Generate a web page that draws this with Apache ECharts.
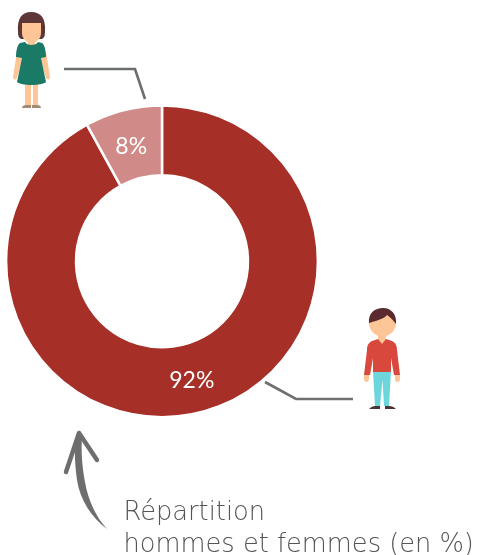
<!DOCTYPE html>
<html><head><meta charset="utf-8">
<style>html,body{margin:0;padding:0;background:#fff}#c{width:479px;height:555px}</style>
<script src="https://cdn.jsdelivr.net/npm/echarts@6/dist/echarts.min.js"></script>
</head><body><div id="c"></div>
<script>
const categories = ['Hommes', 'Femmes'];
const values = [92, 8];
const colors = ['#a62f27', '#d08a88'];
const captionLines = ['Répartition', 'hommes et femmes (en %)'];

const chart = echarts.init(document.getElementById('c'), null, {renderer:'canvas'});
const skin='#fec596';
let shapeCount=0;
function poly(points, stroke, w){return {type:'polyline',shape:{points},style:{stroke,lineWidth:w,fill:null,lineJoin:'miter'},silent:true};}
function p(d,fill){
  const name='figure'+(shapeCount++);
  echarts.graphic.registerShape(name, echarts.graphic.extendPath(d,{}));
  return {type:name,style:{fill},silent:true};
}
const woman=[
  p('M18 32 C17 18 22 12 31 12 C41 12 46 18 45 32 C45 36 44 38 42 39 L21 39 C19 38 18 36 18 32Z','#5d3638'),
  p('M22 23 L41 23 L41 33 C41 39 36 43 31.5 43 C27 43 22 39 22 33Z',skin),
  p('M28 38 L35 38 L35 47 L28 47Z',skin),
  p('M17 52 L13 77 C13 80 16 80 17 78 L23 58Z',skin),
  p('M46 52 L50 77 C50 80 47 80 46 78 L40 58Z',skin),
  p('M25 84 L31 84 L31 106 L25 106Z',skin),
  p('M33 84 L38 84 L38 106 L33 106Z',skin),
  p('M22 108 C22 106 24 105 26 105 L31 105 L31 108Z','#a08a70'),
  p('M41 108 C41 106 39 105 37 105 L32 105 L32 108Z','#a08a70'),
  p('M25 42 C27 46 36 46 38 42 L42 43 C45 45 46 52 46 57 L41 58 L46 82 C42 86 21 86 17 82 L22 58 L16 57 C16 52 17 45 20 43Z','#1a7a65')
];
const man=[
  p('M378 335 L386 335 L386 345 L378 345Z',skin),
  p('M364 375 L369 375 L369 379 C369 383 364 383 364 379Z',skin),
  p('M395 375 L400 375 L400 379 C400 383 395 383 395 379Z',skin),
  p('M373 371 L391 371 L389 406 L384 406 L382.5 380 L380 406 L375 406Z','#6dd6dc'),
  p('M369 409 C371 407 373 406 375 406 L380 406 L380 409Z','#4a3535'),
  p('M396 409 C394 407 392 406 389 406 L385 406 L385 409Z','#4a3535'),
  p('M372 341 L378 339 L382 344 L386 339 L392 341 C396 343 397 346 397 350 L400 375 L394 375 L391 358 L391 372 L373 372 L373 358 L370 375 L364 375 L367 350 C367 346 368 343 372 341Z','#d8483c'),
  {type:'circle',shape:{cx:382.5,cy:323,r:13.5},style:{fill:skin},silent:true},
  p('M369 323 C368 313 375 308 383 308 C391 308 397 314 396 324 C393 320 390 317 387 315 C384 319 375 321 369 323Z','#5a2a2e')
];
chart.setOption({
  animation:false,
  series:[{
    type:'pie',
    center:[162,261.3],
    radius:[86,155.9],
    startAngle:90,
    clockwise:true,
    itemStyle:{borderColor:'#fff',borderWidth:2.5},
    label:{position:'inside',formatter:'{d}%',color:'#fff',fontFamily:'Lato',fontSize:23},
    labelLine:{show:false},
    emphasis:{disabled:true},
    data:categories.map((name,i)=>({name,value:values[i],itemStyle:{color:colors[i]},label:i===1?{offset:[0,5.5]}:{offset:[-1,-1]}}))
  }],
  graphic:{elements:[
    ...woman,...man,
    poly([[64,69],[135,69],[145,99]],'#6b6f6f',2.6),
    poly([[265,382],[296,399],[353,399]],'#6f6f6f',2.6),
    p('M107 529 C92 518 80 500 77 480 C75 465 74 450 76 436 L82 436 C81 450 82 467 85 482 C88 500 96 517 107 529Z','#6e6e6e'),
    {type:'polyline',shape:{points:[[66,472],[79,433],[97,460]]},style:{stroke:'#6e6e6e',lineWidth:4.5,fill:null,lineCap:'round',lineJoin:'round'},silent:true},
    {type:'text',left:123.5,top:500,silent:true,style:{text:captionLines[0],fontFamily:'DejaVu Sans',fontWeight:200,fontSize:25.7,fill:'#555'}},
    {type:'text',left:123.5,top:532,silent:true,style:{text:captionLines[1],fontFamily:'DejaVu Sans',fontWeight:200,fontSize:25.7,fill:'#555'}}
  ]}
});
</script></body></html>
